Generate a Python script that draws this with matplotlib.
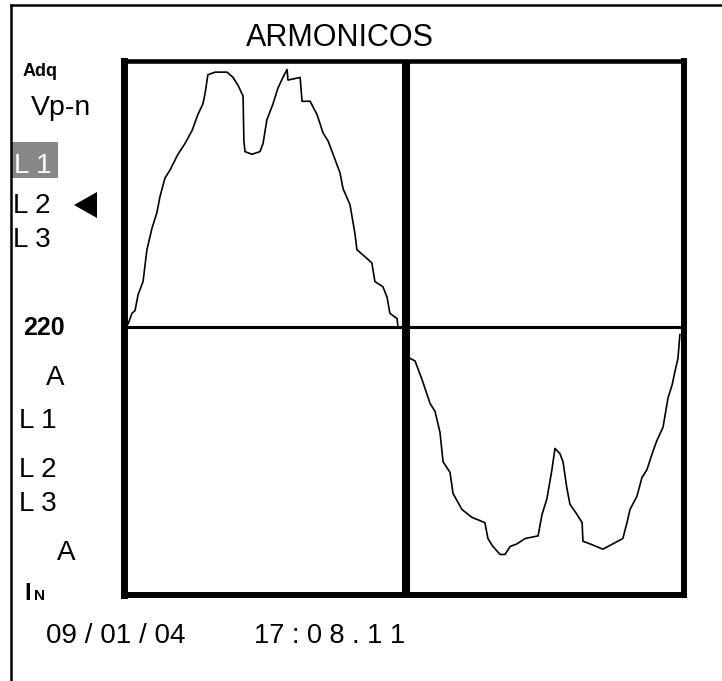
import matplotlib

matplotlib.use("Agg")
import matplotlib.pyplot as plt
from matplotlib.lines import Line2D
from matplotlib.patches import Polygon, Rectangle

# one cycle of the voltage waveform, time in ms, value as fraction of full scale
t_pos = [0.04, 0.18, 0.29, 0.40, 0.58, 0.72, 0.90, 1.08, 1.19, 1.37, 1.55, 1.84, 2.09, 2.35,
         2.56, 2.74, 2.82, 2.92, 3.18, 3.61, 3.83, 4.01, 4.19, 4.22, 4.26, 4.51, 4.80, 4.91,
         5.05, 5.27, 5.45, 5.63, 5.78, 5.81, 6.25, 6.32, 6.61, 6.86, 7.08, 7.26, 7.44, 7.69,
         7.80, 8.05, 8.23, 8.30, 8.52, 8.84, 8.95, 9.24, 9.39, 9.49, 9.75, 9.78]
v_pos = [0.01, 0.05, 0.06, 0.12, 0.17, 0.29, 0.37, 0.43, 0.49, 0.56, 0.59, 0.65, 0.69, 0.74,
         0.80, 0.84, 0.88, 0.95, 0.96, 0.96, 0.94, 0.91, 0.87, 0.70, 0.66, 0.65, 0.66, 0.69,
         0.78, 0.84, 0.90, 0.94, 0.97, 0.93, 0.94, 0.85, 0.85, 0.80, 0.73, 0.70, 0.65, 0.58,
         0.52, 0.46, 0.35, 0.29, 0.27, 0.24, 0.17, 0.15, 0.11, 0.05, 0.03, 0.00]
t_neg = [10.22, 10.40, 10.65, 10.94, 11.12, 11.30, 11.41, 11.66, 11.77, 12.09, 12.45, 12.92,
         13.03, 13.21, 13.47, 13.65, 13.83, 14.08, 14.37, 14.84, 14.98, 15.16, 15.34, 15.45,
         15.63, 15.74, 15.88, 15.99, 16.25, 16.43, 16.46, 16.71, 17.18, 17.54, 17.90, 18.05,
         18.16, 18.41, 18.59, 18.77, 18.99, 19.13, 19.35, 19.53, 19.68, 19.78, 19.89, 19.96]
v_neg = [-0.12, -0.13, -0.20, -0.29, -0.32, -0.40, -0.51, -0.55, -0.63, -0.69, -0.72, -0.74,
         -0.80, -0.83, -0.86, -0.86, -0.83, -0.82, -0.80, -0.79, -0.71, -0.65, -0.54, -0.46,
         -0.48, -0.51, -0.61, -0.67, -0.71, -0.74, -0.81, -0.82, -0.84, -0.82, -0.80, -0.74,
         -0.69, -0.64, -0.57, -0.54, -0.47, -0.43, -0.38, -0.27, -0.22, -0.17, -0.12, -0.03]

title = "ARMONICOS"
volt_labels = ["L 1", "L 2", "L 3"]
amp_labels = ["L 1", "L 2", "L 3"]
scale_text = "220"
date_text = "09 / 01 / 04"
time_text = "17 : 0 8 . 1 1"

W, H = 722, 681
FONT = "Liberation Sans"


def fx(x):
    return x / W


def fy(y):
    return 1 - y / H


def label(fig, x, y, s, size=20, weight="normal", color="black"):
    fig.text(fx(x), fy(y), s, fontsize=size, fontweight=weight, color=color,
             family=FONT, ha="left", va="baseline")


fig = plt.figure(figsize=(W / 100, H / 100), dpi=100)
fig.patch.set_facecolor("white")

# screen frame
fig.add_artist(Line2D([fx(11), fx(722)], [fy(5), fy(5)], color="black", lw=1.8))
fig.add_artist(Line2D([fx(11), fx(11)], [fy(5), fy(681)], color="black", lw=1.8))

# scope box
ax = fig.add_axes([fx(123.5), fy(595), (684 - 123.5) / W, (595 - 61) / H])
ax.set_xlim(-0.126, 20.108)
ax.set_ylim(-1.013, 1.002)
ax.set_xticks([])
ax.set_yticks([])
for side, w in [("left", 5.0), ("top", 3.3), ("right", 4.3), ("bottom", 4.3)]:
    ax.spines[side].set_linewidth(w)
    ax.spines[side].set_color("black")

ax.plot(t_pos, v_pos, color="black", lw=1.2, zorder=2)
ax.plot(t_neg, v_neg, color="black", lw=1.2, zorder=2)
ax.axhline(0, color="black", lw=2.2, zorder=3)
ax.axvline(10.07, color="black", lw=5.8, zorder=3)

# header
fig.text(fx(340), fy(46), title, fontsize=22, family=FONT, ha="center", va="baseline")

# left side labels
label(fig, 23, 76, "Adq", size=13, weight="bold")
label(fig, 31, 115, "Vp-n", size=20.5)
fig.add_artist(Rectangle((fx(12), fy(178)), (58 - 12) / W, (178 - 142) / H,
                         transform=fig.transFigure, facecolor="#878787", edgecolor="none"))
label(fig, 14, 173, volt_labels[0], color="white")
label(fig, 13, 213, volt_labels[1])
label(fig, 13, 247, volt_labels[2])
fig.add_artist(Polygon([(fx(74), fy(205)), (fx(97), fy(192)), (fx(97), fy(218))],
                       closed=True, transform=fig.transFigure, facecolor="black",
                       edgecolor="none"))
label(fig, 23, 335, scale_text, size=18, weight="bold")
label(fig, 46, 385, "A")
label(fig, 19, 428, amp_labels[0])
label(fig, 19, 477, amp_labels[1])
label(fig, 19, 511, amp_labels[2])
label(fig, 57, 560, "A")
label(fig, 24, 600, "I", size=17, weight="bold")
label(fig, 34, 600, "N", size=11, weight="bold")

# footer
label(fig, 46, 643, date_text)
label(fig, 254, 643, time_text, size=19.5)

fig.savefig("out.png", dpi=100, facecolor="white")
